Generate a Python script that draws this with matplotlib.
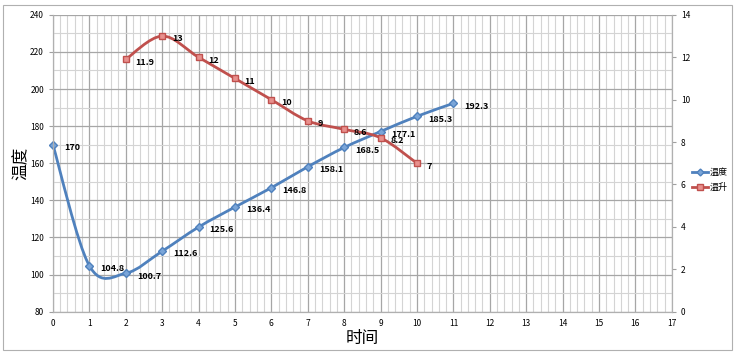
import numpy as np
import matplotlib.pyplot as plt
from matplotlib.path import Path
from matplotlib.patches import PathPatch, Rectangle
from matplotlib.lines import Line2D
from matplotlib.ticker import MultipleLocator

plt.rcParams['font.family'] = ['Noto Sans CJK SC', 'DejaVu Sans']

# 数据
temp_x = [0, 1, 2, 3, 4, 5, 6, 7, 8, 9, 10, 11]
temp_y = [170, 104.8, 100.7, 112.6, 125.6, 136.4, 146.8, 158.1, 168.5, 177.1, 185.3, 192.3]
rise_x = [2, 3, 4, 5, 6, 7, 8, 9, 10]
rise_y = [11.9, 13, 12, 11, 10, 9, 8.6, 8.2, 7]

blue = '#4F81BD'
red = '#C0504D'


def smooth_path(xs, ys):
    # Excel 风格的平滑曲线（Catmull-Rom -> Bezier）
    p = np.column_stack([xs, ys]).astype(float)
    verts = [p[0]]
    codes = [Path.MOVETO]
    n = len(p)
    for i in range(n - 1):
        p0 = p[i - 1] if i > 0 else p[i]
        p3 = p[i + 2] if i + 2 < n else p[i + 1]
        c1 = p[i] + (p[i + 1] - p0) / 6
        c2 = p[i + 1] - (p3 - p[i]) / 6
        verts += [c1, c2, p[i + 1]]
        codes += [Path.CURVE4] * 3
    return Path(verts, codes)


fig = plt.figure(figsize=(7.35, 3.53), dpi=100)
fig.patches.append(Rectangle((0.004, 0.008), 0.992, 0.978, transform=fig.transFigure,
                             fill=False, edgecolor='#b0b0b0', linewidth=0.8))
ax = fig.add_axes([0.072, 0.117, 0.842, 0.841])
ax2 = ax.twinx()

ax.set_xlim(0, 17)
ax.set_ylim(80, 240)
ax2.set_ylim(0, 14)
ax.xaxis.set_major_locator(MultipleLocator(1))
ax.xaxis.set_minor_locator(MultipleLocator(0.2))
ax.yaxis.set_major_locator(MultipleLocator(20))
ax.yaxis.set_minor_locator(MultipleLocator(10))
ax2.yaxis.set_major_locator(MultipleLocator(2))

ax.grid(which='major', color='#a6a6a6', linewidth=0.9)
ax.grid(which='minor', color='#d4d4d4', linewidth=0.8)
ax.set_axisbelow(True)
ax.tick_params(axis='x', which='both', length=0, labelsize=6, pad=5)
ax.tick_params(axis='y', which='major', length=3, labelsize=6, color='#a0a0a0')
ax.tick_params(axis='y', which='minor', length=0)
ax2.tick_params(axis='y', length=3, labelsize=6, color='#a0a0a0')
for a in (ax, ax2):
    for s in a.spines.values():
        s.set_color('#b0b0b0')
    a.spines['top'].set_visible(False)

# 温度
ax.add_patch(PathPatch(smooth_path(temp_x, temp_y), fill=False, edgecolor=blue,
                       linewidth=2, zorder=3))
ax.plot(temp_x, temp_y, linestyle='none', marker='D', markersize=4.5,
        markerfacecolor='#7aa5d8', markeredgecolor=blue, zorder=4, clip_on=False)
for x, y in zip(temp_x, temp_y):
    ax.annotate(f'{y:g}', (x, y), xytext=(8, -2), textcoords='offset points',
                ha='left', va='center', fontsize=6.5, fontweight='bold')

# 温升
ax2.add_patch(PathPatch(smooth_path(rise_x, rise_y), fill=False, edgecolor=red,
                        linewidth=2, zorder=3))
ax2.plot(rise_x, rise_y, linestyle='none', marker='s', markersize=5,
         markerfacecolor='#e8908d', markeredgecolor=red, zorder=4)
for x, y in zip(rise_x, rise_y):
    ax2.annotate(f'{y:g}', (x, y), xytext=(7, -2), textcoords='offset points',
                 ha='left', va='center', fontsize=6.5, fontweight='bold')

ax.set_xlabel('时间', fontsize=12, labelpad=2)
ax.set_ylabel('温度', fontsize=12)
ax.yaxis.set_label_coords(-0.037, 0.5)

handles = [Line2D([], [], color=blue, linewidth=2, marker='D', markersize=3.5,
                  markerfacecolor='#7aa5d8'),
           Line2D([], [], color=red, linewidth=2, marker='s', markersize=4,
                  markerfacecolor='#e8908d')]
fig.legend(handles, ['温度', '温升'], loc='center left', bbox_to_anchor=(0.933, 0.49),
           frameon=False, fontsize=6.5, handlelength=1.8, handletextpad=0.1,
           labelspacing=0.6, borderpad=0.2)

plt.savefig('out.png', dpi=100)
